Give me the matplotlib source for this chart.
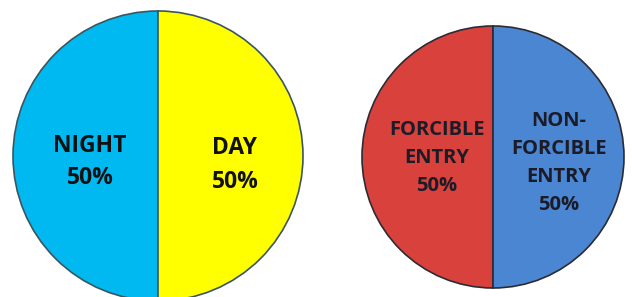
import matplotlib
matplotlib.use("Agg")
import matplotlib.pyplot as plt

# time of day
time_labels = ["NIGHT\n50%", "DAY\n50%"]
time_values = [50, 50]
time_colors = ["#00B9F1", "#FFFF00"]

# type of entry
entry_labels = ["FORCIBLE\nENTRY\n50%", "NON-\nFORCIBLE\nENTRY\n50%"]
entry_values = [50, 50]
entry_colors = ["#D8413C", "#4A86D2"]


def main():
    W, H = 634, 297
    fig = plt.figure(figsize=(W / 100, H / 100), dpi=100)
    ax = fig.add_axes([0, 0, 1, 1])

    # left pie, drawn in pixel coords
    c1, r1 = (158, H - 156), 145
    ax.pie(time_values, colors=time_colors, startangle=90, center=c1, radius=r1,
           wedgeprops=dict(edgecolor="#3a5560", linewidth=1.2), frame=True)
    ax.text(c1[0] - 68, c1[1] - 6, time_labels[0], ha="center", va="center",
            fontsize=16.5, fontweight="bold", family="Open Sans",
            linespacing=1.5, color="#111111")
    ax.text(c1[0] + 77, c1[1] - 9, time_labels[1], ha="center", va="center",
            fontsize=16.5, fontweight="bold", family="Open Sans",
            linespacing=1.5, color="#111111")

    # right pie
    c2, r2 = (493, H - 157), 131
    ax.pie(entry_values, colors=entry_colors, startangle=90, center=c2, radius=r2,
           wedgeprops=dict(edgecolor="#2b2b35", linewidth=1.2), frame=True)
    ax.text(c2[0] - 56, c2[1] - 1, entry_labels[0], ha="center", va="center",
            fontsize=14.5, fontweight="bold", family="Open Sans",
            linespacing=1.55, color="#1c1c28")
    ax.text(c2[0] + 66, c2[1] - 6, entry_labels[1], ha="center", va="center",
            fontsize=14.5, fontweight="bold", family="Open Sans",
            linespacing=1.55, color="#1c1c28")

    ax.set_xlim(0, W)
    ax.set_ylim(0, H)
    ax.set_aspect("equal")
    ax.axis("off")
    fig.savefig("out.png", dpi=100)


if __name__ == "__main__":
    main()
